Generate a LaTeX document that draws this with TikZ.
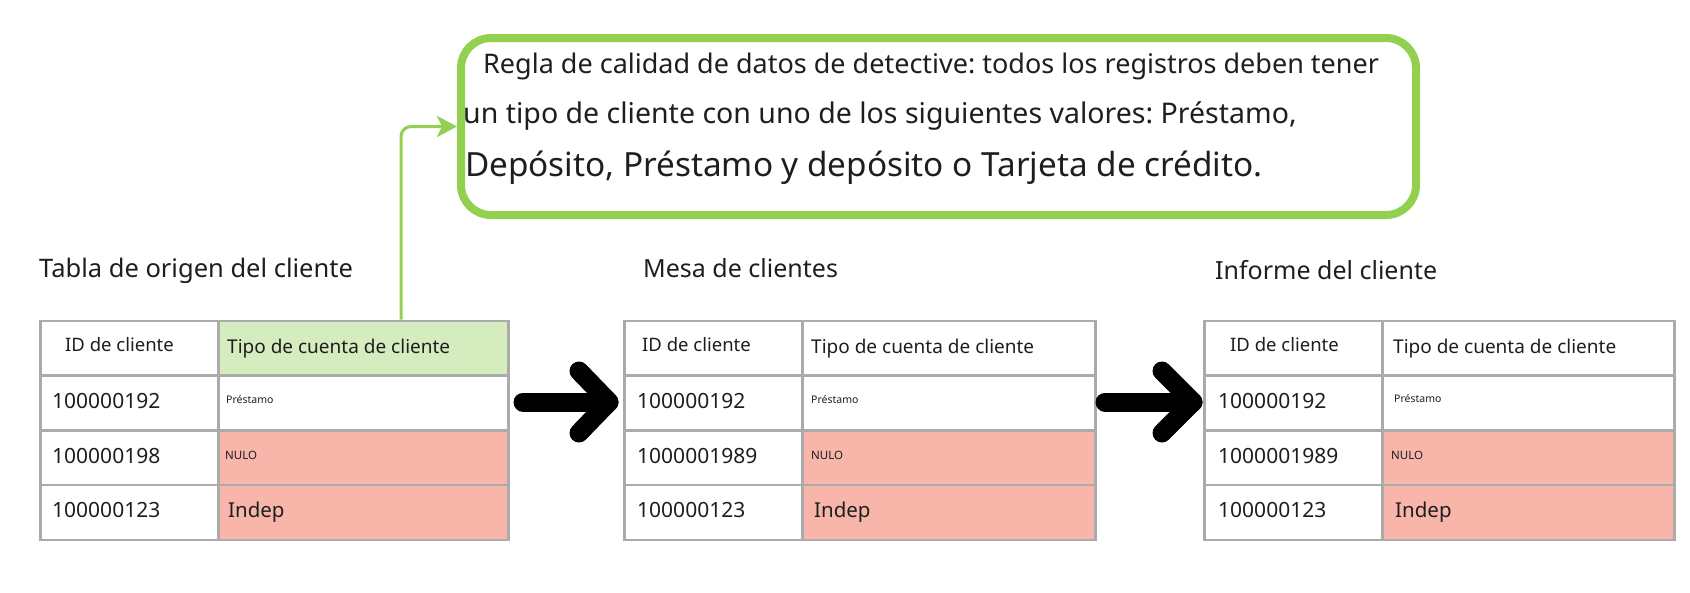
\documentclass[tikz,border=0pt]{standalone}
\usepackage{fontspec}
\setmainfont{Noto Sans}
\usetikzlibrary{arrows.meta}
\definecolor{rulegreen}{RGB}{146,208,80}
\definecolor{headgreen}{RGB}{213,237,190}
\definecolor{badred}{RGB}{248,181,170}
\definecolor{gridgray}{RGB}{171,171,171}
\definecolor{inkgray}{RGB}{30,30,30}
\newcommand{\fs}[1]{\fontsize{#1}{#1}\selectfont}
\frenchspacing
\begin{document}
\begin{tikzpicture}[x=1pt, y=-1pt, text=inkgray,
  cell/.style = {draw=gridgray, line width=2.5pt, anchor=north west, inner sep=0pt, minimum height=54.75pt},
  idcol/.style = {cell, minimum width=178pt},
  typecol/.style = {cell, minimum width=292pt},
  lbl/.style = {anchor=base west, inner sep=0pt},
  title/.style = {lbl, font=\fs{25}},
  idhead/.style = {lbl, font=\fs{18.5}},
  typehead/.style = {lbl, font=\fs{19}},
  num/.style = {lbl, font=\fs{21}},
  tiny/.style = {lbl, font=\fs{10.5}},
  fat/.style = {line width=19pt, line cap=round, line join=round},
  link/.style = {draw=rulegreen, line width=3pt, rounded corners=10pt, -{Stealth[length=20pt, width=21pt, inset=5pt]}}]
  \useasboundingbox (0,0) rectangle (1690,592);

  % rule box
  \node[draw=rulegreen, line width=8pt, rounded corners=30pt, anchor=north west, minimum width=955pt, minimum height=177pt] (rule) at (457,34) {};
  \node[lbl, font=\fs{27}] (r1) at (483,73) {Regla de calidad de datos de detective: todos los registros deben tener};
  \node[lbl, font=\fs{28.5}] (r2) at (463,123) {un tipo de cliente con uno de los siguientes valores: Préstamo,};
  \node[lbl, font=\fs{33.3}] (r3) at (465,176) {Depósito, Préstamo y depósito o Tarjeta de crédito.};

  % source table
  \node[title, font=\fs{25.5}] (t1) at (39,277) {Tabla de origen del cliente};
  \node[idcol] (a1) at (39,319.5) {};
  \node[typecol, minimum width=290pt, fill=headgreen] (b1) at (217,319.5) {};
  \node[idcol] (a2) at (39,374.25) {};
  \node[typecol, minimum width=290pt] (b2) at (217,374.25) {};
  \node[idcol] (a3) at (39,429) {};
  \node[typecol, minimum width=290pt, fill=badred] (b3) at (217,429) {};
  \node[idcol] (a4) at (39,483.75) {};
  \node[typecol, minimum width=290pt, fill=badred] (b4) at (217,483.75) {};
  \node[idhead] (a1t) at (65,351) {ID de cliente};
  \node[typehead] (b1t) at (227,353) {Tipo de cuenta de cliente};
  \node[num] (a2t) at (52,408) {100000192};
  \node[tiny] (b2t) at (226,403) {Préstamo};
  \node[num] (a3t) at (52,463) {100000198};
  \node[tiny, font=\fs{11.5}] (b3t) at (225,459) {NULO};
  \node[num] (a4t) at (52,517) {100000123};
  \node[num, font=\fs{20.5}] (b4t) at (228,517) {Indep};

  % customer table
  \node[title] (t2) at (643,277) {Mesa de clientes};
  \node[idcol] (c1) at (623,319.5) {};
  \node[typecol, minimum width=293pt] (d1) at (801,319.5) {};
  \node[idcol] (c2) at (623,374.25) {};
  \node[typecol, minimum width=293pt] (d2) at (801,374.25) {};
  \node[idcol] (c3) at (623,429) {};
  \node[typecol, minimum width=293pt, fill=badred] (d3) at (801,429) {};
  \node[idcol] (c4) at (623,483.75) {};
  \node[typecol, minimum width=293pt, fill=badred] (d4) at (801,483.75) {};
  \node[idhead] (c1t) at (642,351) {ID de cliente};
  \node[typehead] (d1t) at (811,353) {Tipo de cuenta de cliente};
  \node[num] (c2t) at (637,408) {100000192};
  \node[tiny] (d2t) at (811,403) {Préstamo};
  \node[num] (c3t) at (637,463) {1000001989};
  \node[tiny, font=\fs{11.5}] (d3t) at (811,459) {NULO};
  \node[num] (c4t) at (637,517) {100000123};
  \node[num, font=\fs{20.5}] (d4t) at (814,517) {Indep};

  % report table
  \node[title] (t3) at (1215,279) {Informe del cliente};
  \node[idcol] (e1) at (1203,319.5) {};
  \node[typecol] (f1) at (1381,319.5) {};
  \node[idcol] (e2) at (1203,374.25) {};
  \node[typecol] (f2) at (1381,374.25) {};
  \node[idcol] (e3) at (1203,429) {};
  \node[typecol, fill=badred] (f3) at (1381,429) {};
  \node[idcol] (e4) at (1203,483.75) {};
  \node[typecol, fill=badred] (f4) at (1381,483.75) {};
  \node[idhead] (e1t) at (1230,351) {ID de cliente};
  \node[typehead] (f1t) at (1393,353) {Tipo de cuenta de cliente};
  \node[num] (e2t) at (1218,408) {100000192};
  \node[tiny] (f2t) at (1394,402) {Préstamo};
  \node[num] (e3t) at (1218,463) {1000001989};
  \node[tiny, font=\fs{11.5}] (f3t) at (1391,459) {NULO};
  \node[num] (e4t) at (1218,517) {100000123};
  \node[num, font=\fs{20.5}] (f4t) at (1395,517) {Indep};

  % arrows
  \draw[link] ([xshift=184pt]b1.north west) |- (rule.west);
  \coordinate (p1) at (523,402);
  \coordinate (q1) at (609,402);
  \coordinate (p2) at (1105,402);
  \coordinate (q2) at (1193,402);
  \draw[fat] (p1) -- (q1);
  \draw[fat] ([shift={(-30,-31)}]q1) -- (q1) -- ([shift={(-30,31)}]q1);
  \draw[fat] (p2) -- (q2);
  \draw[fat] ([shift={(-31,-31)}]q2) -- (q2) -- ([shift={(-31,31)}]q2);
\end{tikzpicture}
\end{document}
